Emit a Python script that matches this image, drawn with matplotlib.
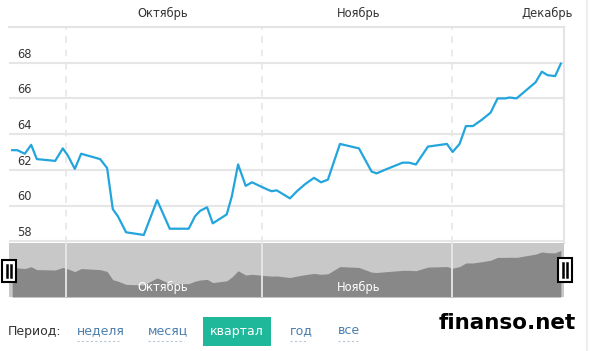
import matplotlib.pyplot as plt
from matplotlib.patches import Rectangle
from matplotlib.lines import Line2D

# days counted from 1 October
days = [-8.5, -7.7, -6.5, -5.5, -4.6, -1.7, -0.5, 0.3, 1.4, 2.4, 5.4, 6.5, 7.4, 8.2,
        9.5, 12.3, 14.4, 16.4, 19.4, 20.4, 21.2, 22.3, 23.2, 25.4, 26.2, 27.2, 28.4,
        29.4, 31.8, 32.5, 33.3, 35.4, 36.5, 37.8, 39.2, 40.3, 41.4, 42.2, 43.3, 46.3,
        48.3, 49.1, 50.4, 53.2, 54.2, 55.3, 57.2, 60.2, 61.1, 62.2, 63.2, 64.3, 65.7,
        67.1, 68.2, 69.4, 70.1, 71.2, 74.2, 75.2, 76.1, 77.3, 78.2]
values = [63.1, 63.1, 62.9, 63.4, 62.6, 62.5, 63.2, 62.8, 62.05, 62.9, 62.6, 62.1, 59.8, 59.4,
          58.5, 58.35, 60.3, 58.7, 58.7, 59.4, 59.7, 59.9, 59.0, 59.5, 60.5, 62.3, 61.1,
          61.3, 60.9, 60.8, 60.85, 60.4, 60.8, 61.2, 61.55, 61.3, 61.45, 62.3, 63.45, 63.2,
          61.9, 61.8, 62.0, 62.4, 62.4, 62.3, 63.3, 63.45, 63.0, 63.45, 64.45, 64.45, 64.8,
          65.2, 66.0, 66.0, 66.05, 66.0, 66.9, 67.5, 67.3, 67.25, 67.95]

month_starts = [0, 31, 61]
month_names = ["Октябрь", "Ноябрь", "Декабрь"]
month_label_pos = [15.3, 46.3, 76.1]
y_ticks = [58, 60, 62, 64, 66, 68]
periods = ["неделя", "месяц", "квартал", "год", "все"]

W, H = 590, 351
xlim = (-9.0, 78.7)

fig = plt.figure(figsize=(W / 100, H / 100), dpi=100)


def fx(px):
    return px / W


def fy(py):
    return 1 - py / H


ax = fig.add_axes([fx(9), fy(243), fx(555), 216 / H])
ax.set_xlim(*xlim)
ax.set_ylim(57.9, 70.0)
for s in ["left", "bottom"]:
    ax.spines[s].set_visible(False)
for s in ["top", "right"]:
    ax.spines[s].set_color("#e4e4e4")
    ax.spines[s].set_linewidth(1.5)
ax.set_xticks([])
ax.set_yticks([])

for v in y_ticks:
    ax.axhline(v, color="#e6e6e6", lw=1.5, zorder=1)
    ax.text(0.015, v + 0.12, str(v), transform=ax.get_yaxis_transform(),
            fontsize=8.3, color="#333333", va="bottom", ha="left")

for d in month_starts:
    ax.axvline(d, color="#e6e6e6", lw=1.2, ls=(0, (4, 4)), zorder=1)

ax.plot(days, values, color="#22a5dd", lw=1.6, zorder=3)

for pos, name in zip(month_label_pos, month_names):
    ax.text(pos, 1.065, name, transform=ax.get_xaxis_transform(),
            fontsize=8.3, color="#333333", ha="center", va="center")

# navigator
nav = fig.add_axes([fx(9), fy(297), fx(555), 54 / H])
nav.set_xlim(*xlim)
nav.set_ylim(55, 70)
nav.set_facecolor("#c8c8c8")
for s in nav.spines.values():
    s.set_visible(False)
nav.set_xticks([])
nav.set_yticks([])
nav.fill_between(days, values, 55, color="#888888", lw=0)
for d in month_starts:
    nav.axvline(d, color="#e8e8e8", lw=1.3)
for pos, name in zip(month_label_pos[:2], month_names[:2]):
    nav.text(pos, 0.17, name, transform=nav.get_xaxis_transform(),
             fontsize=8.3, color="white", ha="center", va="center")

# navigator handles
for x0, y0, y1 in [(2, 260, 282), (558, 258, 282)]:
    fig.add_artist(Rectangle((fx(x0), fy(y1)), 14 / W, (y1 - y0) / H,
                             transform=fig.transFigure, facecolor="white",
                             edgecolor="black", lw=1.5))
    for dx in (5, 9):
        fig.add_artist(Line2D([fx(x0 + dx), fx(x0 + dx)], [fy(y0 + 5), fy(y1 - 5)],
                              transform=fig.transFigure, color="black", lw=1.8))

# page border line on the right
fig.add_artist(Line2D([fx(587), fx(587)], [0, 1], transform=fig.transFigure,
                      color="#eeeeee", lw=1.5))

# period selector
fig.text(fx(8), fy(331), "Период:", fontsize=9, color="#333333", va="center", ha="left")
link_x = [77, 148, None, 290, 338]
link_w = [42, 36, None, 17, 20]
for name, x0, w in zip(periods, link_x, link_w):
    if x0 is None:
        continue
    fig.text(fx(x0), fy(331), name, fontsize=9, color="#4b7fae", va="center", ha="left")
    fig.add_artist(Line2D([fx(x0), fx(x0 + w)], [fy(341), fy(341)], transform=fig.transFigure,
                          color="#b8c8d8", lw=0.8, ls=(0, (2, 2))))
fig.add_artist(Rectangle((fx(203), fy(346)), 68 / W, 29 / H, transform=fig.transFigure,
                         facecolor="#20b89a", edgecolor="none"))
fig.text(fx(237), fy(331), periods[2], fontsize=9, color="white", va="center", ha="center")

fig.text(fx(576), fy(323), "finanso.net", fontsize=15.5, fontweight="bold",
         color="black", va="center", ha="right")

fig.savefig("out.png", dpi=100)
